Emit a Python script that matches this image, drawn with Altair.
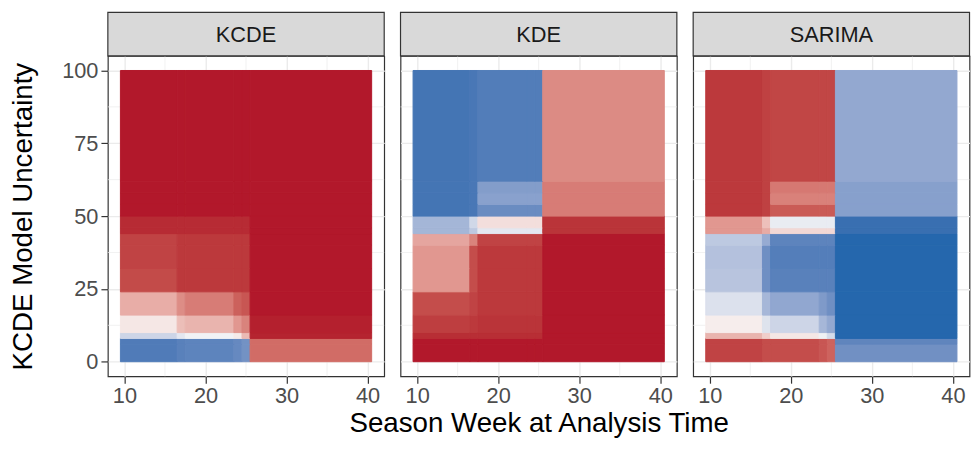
import altair as alt
import pandas as pd

PANELS = ["KCDE", "KDE", "SARIMA"]
X_BREAKS = [9.5, 16.5, 17.5, 23.5, 24.5, 25.5, 40.5]
Y_BREAKS = [0, 6, 8, 10, 16, 24, 32, 40, 44, 46, 50, 54, 58, 62, 100]
X_TICKS = [10, 20, 30, 40]
Y_TICKS = [0, 25, 50, 75, 100]
X_MINOR = [15, 25, 35]
Y_MINOR = [12.5, 37.5, 62.5, 87.5]

# rows bottom -> top (between Y_BREAKS), columns left -> right (between X_BREAKS)
# positive = red, negative = blue
KCDE = [
    [-0.84, -0.80, -0.78, -0.74, -0.68, 0.68],
    [-0.84, -0.80, -0.78, -0.74, -0.68, 0.68],
    [-0.22, -0.10, -0.03, 0.06, 0.30, 0.97],
    [0.08, 0.28, 0.33, 0.47, 0.57, 0.98],
    [0.36, 0.52, 0.60, 0.73, 0.78, 1.00],
    [0.83, 0.90, 0.90, 0.90, 0.90, 1.00],
    [0.86, 0.90, 0.90, 0.90, 0.90, 1.00],
    [0.86, 0.90, 0.90, 0.90, 0.90, 1.00],
    [0.95, 0.95, 0.95, 0.95, 0.95, 1.00],
    [0.95, 0.95, 0.95, 0.95, 0.95, 1.00],
    [1.00, 1.00, 1.00, 1.00, 1.00, 1.00],
    [1.00, 1.00, 1.00, 1.00, 1.00, 1.00],
    [1.00, 1.00, 1.00, 1.00, 1.00, 1.00],
    [1.00, 1.00, 1.00, 1.00, 1.00, 1.00],
]
KDE = [
    [1.00, 1.00, 1.00, 1.00, 1.00, 1.00],
    [1.00, 1.00, 1.00, 1.00, 1.00, 1.00],
    [0.94, 0.94, 0.94, 0.94, 0.94, 1.00],
    [0.88, 0.90, 0.92, 0.92, 0.92, 1.00],
    [0.82, 0.86, 0.90, 0.90, 0.90, 1.00],
    [0.47, 0.82, 0.90, 0.90, 0.90, 1.00],
    [0.47, 0.82, 0.90, 0.90, 0.90, 1.00],
    [0.40, 0.57, 0.86, 0.86, 0.86, 1.00],
    [-0.43, -0.30, -0.10, -0.10, -0.10, 0.92],
    [-0.43, -0.20, 0.12, 0.12, 0.12, 0.92],
    [-0.89, -0.87, -0.72, -0.72, -0.72, 0.60],
    [-0.89, -0.87, -0.57, -0.57, -0.57, 0.60],
    [-0.89, -0.87, -0.60, -0.60, -0.60, 0.60],
    [-0.89, -0.87, -0.83, -0.83, -0.83, 0.53],
]
SARIMA = [
    [0.86, 0.82, 0.82, 0.78, 0.72, -0.69],
    [0.86, 0.82, 0.82, 0.78, 0.72, -0.77],
    [0.33, 0.20, 0.08, -0.04, -0.18, -0.99],
    [0.05, -0.13, -0.22, -0.42, -0.52, -0.99],
    [-0.14, -0.42, -0.53, -0.62, -0.70, -0.99],
    [-0.33, -0.70, -0.80, -0.80, -0.80, -0.99],
    [-0.35, -0.70, -0.82, -0.82, -0.82, -0.99],
    [-0.30, -0.50, -0.78, -0.78, -0.78, -0.99],
    [0.47, 0.37, 0.15, 0.15, 0.15, -0.93],
    [0.47, 0.27, -0.07, -0.07, -0.07, -0.93],
    [0.90, 0.87, 0.76, 0.76, 0.76, -0.58],
    [0.90, 0.87, 0.58, 0.58, 0.58, -0.58],
    [0.90, 0.87, 0.62, 0.62, 0.62, -0.58],
    [0.90, 0.87, 0.85, 0.85, 0.85, -0.52],
]
VALUES = {"KCDE": KCDE, "KDE": KDE, "SARIMA": SARIMA}

rows = []
for name in PANELS:
    grid = VALUES[name]
    for i in range(len(Y_BREAKS) - 1):
        for j in range(len(X_BREAKS) - 1):
            rows.append({
                "panel": name,
                "x": X_BREAKS[j], "x2": X_BREAKS[j + 1],
                "y": Y_BREAKS[i], "y2": Y_BREAKS[i + 1],
                "value": grid[i][j],
            })
df = pd.DataFrame(rows)

FONT = "Liberation Sans"
W, H = 279.5, 324
STRIP_H = 44

color_scale = alt.Scale(domain=[-1, 0, 1], range=["#2166ac", "#f7f7f7", "#b2182b"], interpolate="lab")


def make_panel(idx, name):
    sub = df[df["panel"] == name]
    xs = alt.Scale(domain=[7.95, 42.05], nice=False, zero=False)
    ys = alt.Scale(domain=[-5, 105], nice=False, zero=False)
    if idx == 1:
        xaxis = alt.Axis(values=X_TICKS, title="Season Week at Analysis Time", titlePadding=3)
    else:
        xaxis = alt.Axis(values=X_TICKS, title=None)
    if idx == 0:
        yaxis = alt.Axis(values=Y_TICKS, title="KCDE Model Uncertainty", titlePadding=25)
    else:
        yaxis = alt.Axis(values=Y_TICKS, title=None, labels=False, ticks=False)

    minor_x = alt.Chart(pd.DataFrame({"x": X_MINOR})).mark_rule(
        color="#ebebeb", strokeWidth=0.7
    ).encode(x=alt.X("x:Q", scale=xs, axis=xaxis))
    minor_y = alt.Chart(pd.DataFrame({"y": Y_MINOR})).mark_rule(
        color="#ebebeb", strokeWidth=0.7
    ).encode(y=alt.Y("y:Q", scale=ys, axis=yaxis))

    heat = alt.Chart(sub).mark_rect(strokeWidth=1.0).encode(
        x=alt.X("x:Q", scale=xs, axis=xaxis),
        x2="x2:Q",
        y=alt.Y("y:Q", scale=ys, axis=yaxis),
        y2="y2:Q",
        color=alt.Color("value:Q", scale=color_scale, legend=None),
        stroke=alt.Stroke("value:Q", scale=color_scale, legend=None),
    )

    strip_df = pd.DataFrame({"panel": [name]})
    strip = alt.Chart(strip_df).mark_rect(
        fill="#d9d9d9", stroke="#333333", strokeWidth=1.2
    ).encode(x=alt.value(0), x2=alt.value(W), y=alt.value(-STRIP_H), y2=alt.value(0))
    label = alt.Chart(strip_df).mark_text(
        font=FONT, fontSize=22, color="#1a1a1a", baseline="middle", align="center"
    ).encode(x=alt.value(W / 2), y=alt.value(-STRIP_H / 2 + 1), text="panel:N")

    return alt.layer(minor_x, minor_y, heat, strip, label).properties(width=W, height=H)


chart = alt.hconcat(
    *[make_panel(i, n) for i, n in enumerate(PANELS)], spacing=16, bounds="flush"
).properties(
    padding={"left": 0, "top": 0, "right": 0, "bottom": 0}
).configure_view(
    stroke="#333333", strokeWidth=1.2
).configure_axis(
    grid=True, gridColor="#ebebeb", gridWidth=1.4,
    domain=False,
    tickColor="#333333", tickSize=7, tickWidth=1.2,
    labelColor="#4d4d4d", labelFontSize=22, labelFont=FONT, labelPadding=3,
    titleFont=FONT, titleFontSize=28, titleColor="#000000", titleFontWeight="normal",
).configure_axisY(labelBaseline="middle")

chart.save("out.html", embed_options={"renderer": "svg", "actions": False})
